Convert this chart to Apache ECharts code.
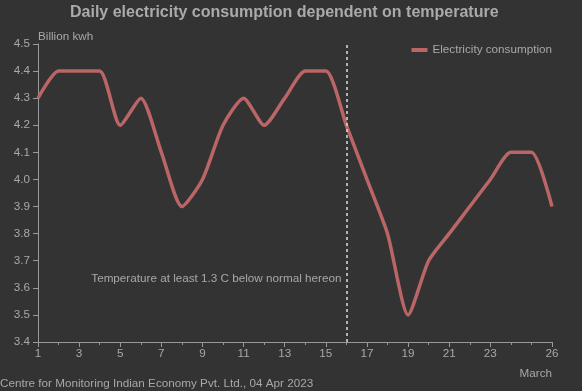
<!DOCTYPE html>
<html><head><meta charset="utf-8">
<script src="https://cdn.jsdelivr.net/npm/echarts@6/dist/echarts.min.js"></script>
<style>html,body{margin:0;padding:0;background:#333333;}#c{width:582px;height:391px;}</style>
</head><body><div id="c"></div>
<script>
const days = ['1','2','3','4','5','6','7','8','9','10','11','12','13','14','15','16','17','18','19','20','21','22','23','24','25','26'];
const consumption = [4.3,4.4,4.4,4.4,4.2,4.3,4.1,3.9,4.0,4.2,4.3,4.2,4.3,4.4,4.4,4.2,4.0,3.8,3.5,3.7,3.8,3.9,4.0,4.1,4.1,3.9];
const labeledDays = ['1','3','5','7','9','11','13','15','17','19','21','23','26'];
const markerDay = '16';
const markerLabelY = 3.635;

const txt = '#a8a8a8';
const ff = 'Liberation Sans';
const fs = 11.7;
const chart = echarts.init(document.getElementById('c'));
chart.setOption({
  backgroundColor: '#333333',
  animation: false,
  title: {text: 'Daily electricity consumption dependent on temperature', left: 65, top: 0,
    textStyle: {color: '#aaaaaa', fontSize: 16, fontWeight: 'bold', fontFamily: ff}},
  legend: {right: 30, top: 44, padding: 0, icon: 'rect', itemWidth: 16, itemHeight: 4, itemGap: 5,
    textStyle: {color: txt, fontSize: fs, fontFamily: ff}},
  grid: {left: 38, right: 30, top: 44, bottom: 49},
  xAxis: [{
    type: 'category', data: days, boundaryGap: false, name: 'March', nameLocation: 'end',
    nameGap: 0,
    nameTextStyle: {color: txt, fontSize: fs, fontFamily: ff, align: 'right', verticalAlign: 'top', padding: [26, 0, 0, 0]},
    axisLine: {lineStyle: {color: '#999', width: 1}},
    axisTick: {length: 5, lineStyle: {color: '#999'}, interval: (i, v) => labeledDays.includes(v)},
    axisLabel: {color: txt, fontSize: fs, fontFamily: ff, margin: 6,
      interval: (i, v) => labeledDays.includes(v)},
    splitLine: {show: false}
  }, {
    type: 'category', data: days, boundaryGap: false, position: 'bottom',
    axisLine: {show: false}, axisLabel: {show: false},
    axisTick: {length: 3, interval: 0, lineStyle: {color: '#999'}}
  }],
  yAxis: {
    type: 'value', min: 3.4, max: 4.5, interval: 0.1, name: 'Billion kwh',
    nameGap: 1, nameTextStyle: {color: txt, fontSize: fs, fontFamily: ff, align: 'left'},
    axisLine: {show: true, lineStyle: {color: '#999'}},
    axisTick: {show: true, length: 5, lineStyle: {color: '#999'}},
    axisLabel: {color: txt, fontSize: fs, fontFamily: ff, margin: 8,
      formatter: v => v.toFixed(1)},
    splitLine: {show: false}
  },
  series: [{
    name: 'Electricity consumption', type: 'line', data: consumption,
    smooth: 0.22, showSymbol: false, symbol: 'none',
    lineStyle: {color: '#bb6666', width: 3.5}, itemStyle: {color: '#bb6666'},
    markLine: {silent: true, symbol: 'none', label: {show: false},
      lineStyle: {color: '#dddddd', type: [3, 3], width: 1.5},
      data: [{xAxis: markerDay}]},
    markPoint: {silent: true, symbol: 'circle', symbolSize: 0,
      label: {show: true, position: 'left', distance: 5, color: txt, fontSize: fs, fontFamily: ff,
        formatter: 'Temperature at least 1.3 C below normal hereon'},
      data: [{coord: [markerDay, markerLabelY]}]}
  }],
  graphic: [{type: 'text', left: 0, bottom: 1,
    style: {text: 'Centre for Monitoring Indian Economy Pvt. Ltd., 04 Apr 2023', fill: txt, fontSize: fs, fontFamily: ff}}]
});
</script></body></html>
